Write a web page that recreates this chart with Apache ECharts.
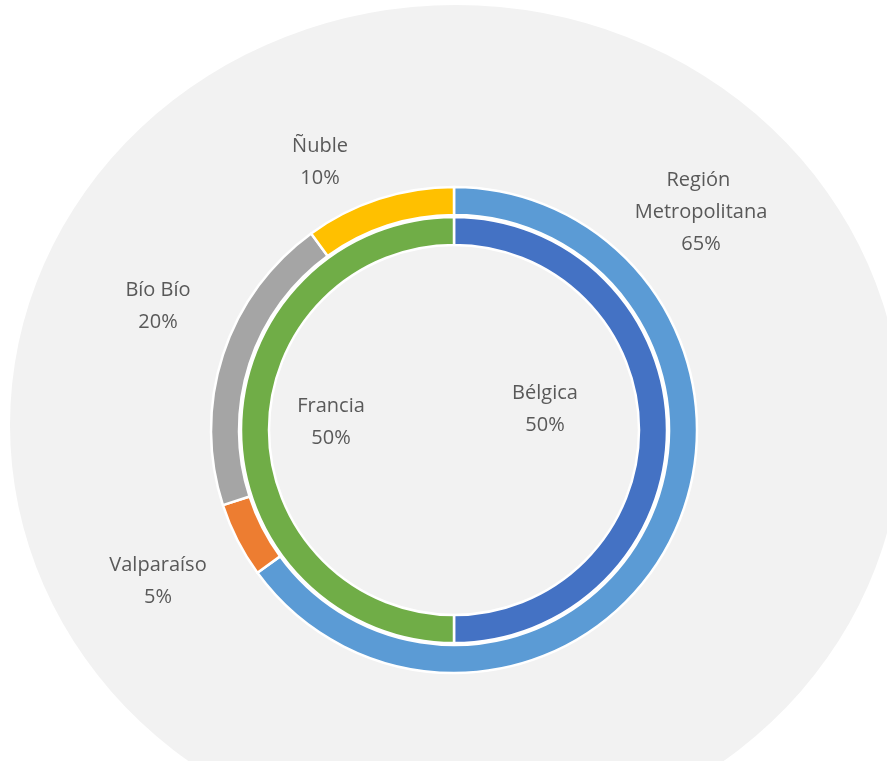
<!DOCTYPE html>
<html>
<head>
<meta charset="utf-8">
<script src="https://cdn.jsdelivr.net/npm/echarts@6/dist/echarts.min.js"></script>
<style>
  html, body { margin: 0; padding: 0; background: #fff; }
  #chart { width: 887px; height: 761px; }
</style>
</head>
<body>
<div id="chart"></div>
<script>
// anillo exterior: regiones
const regiones = ['Región Metropolitana', 'Valparaíso', 'Bío Bío', 'Ñuble']
const regionValores = [65, 5, 20, 10]
const regionColores = ['#5b9bd5', '#ed7d31', '#a5a5a5', '#ffc000']

// anillo interior: paises
const paises = ['Bélgica', 'Francia']
const paisValores = [50, 50]
const paisColores = ['#4472c4', '#70ad47']

// donde van las etiquetas (centro del texto, px)
const posRegion = [[701, 212], [158, 581], [158, 306], [320, 162]]
const posPais = [[545, 409], [331, 422]]

const centro = [454, 430]

let labelBase = {
  show: true,
  position: 'outside',
  formatter: '{b}\n{d}%',
  color: '#595959',
  fontFamily: 'Open Sans',
  fontSize: 20,
  lineHeight: 32,
  align: 'center',
  width: 150,
  overflow: 'break',
}

let option = {
  backgroundColor: '#fff',
  animation: false,
  graphic: [
    {
      // fondo gris (algo achatado, como en la imagen original)
      type: 'circle',
      x: 456,
      y: 425,
      scaleX: 446 / 420,
      shape: { cx: 0, cy: 0, r: 420 },
      style: { fill: '#f2f2f2' },
      z: -10,
      silent: true,
    },
  ],
  series: [
    {
      name: 'regiones',
      type: 'pie',
      center: centro,
      radius: [215, 243],
      startAngle: 90,
      clockwise: true,
      avoidLabelOverlap: false,
      itemStyle: { borderColor: '#fff', borderWidth: 2.5 },
      label: labelBase,
      labelLine: { show: false },
      labelLayout: p => {
        let pos = posRegion[p.dataIndex]
        return { x: pos[0], y: pos[1], align: 'center', verticalAlign: 'middle' }
      },
      emphasis: { disabled: true },
      data: regiones.map((n, i) => ({
        name: n,
        value: regionValores[i],
        itemStyle: { color: regionColores[i] },
      })),
    },
    {
      name: 'paises',
      type: 'pie',
      center: centro,
      radius: [185, 213],
      startAngle: 90,
      clockwise: true,
      avoidLabelOverlap: false,
      itemStyle: { borderColor: '#fff', borderWidth: 2.5 },
      label: labelBase,
      labelLine: { show: false },
      labelLayout: p => {
        let pos = posPais[p.dataIndex]
        return { x: pos[0], y: pos[1], align: 'center', verticalAlign: 'middle' }
      },
      emphasis: { disabled: true },
      data: paises.map((n, i) => ({
        name: n,
        value: paisValores[i],
        itemStyle: { color: paisColores[i] },
      })),
    },
  ],
}

let myChart = echarts.init(document.getElementById('chart'), null, { renderer: 'canvas' })
myChart.setOption(option)
</script>
</body>
</html>
